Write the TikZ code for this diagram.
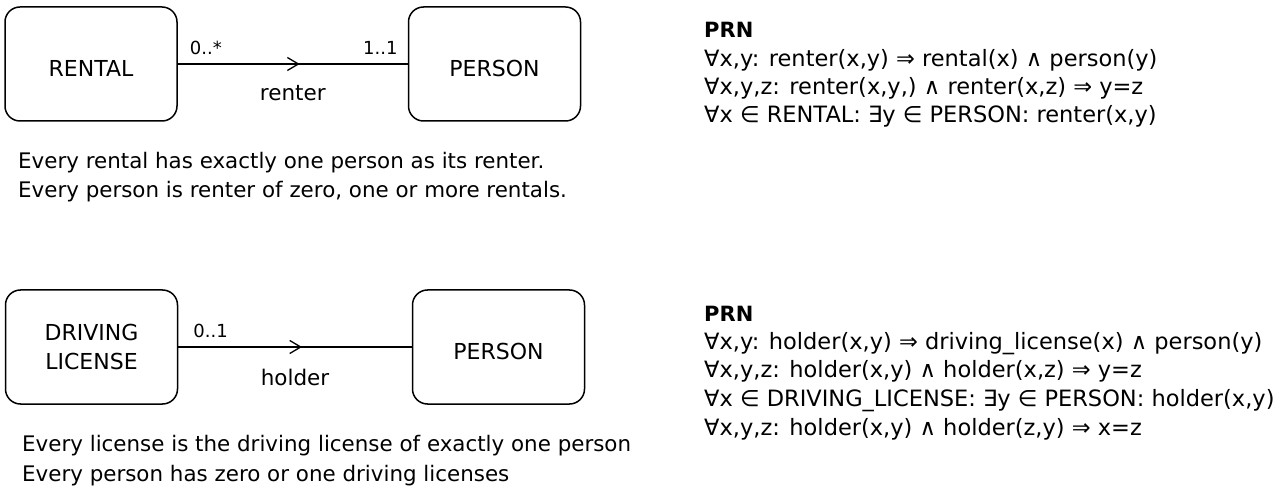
\documentclass[tikz,border=0pt]{standalone}
\usepackage{fontspec}
\setmainfont{DejaVu Sans}
\usetikzlibrary{arrows.meta,decorations.markings,positioning}

\tikzset{
  entity/.style={draw, line width=1.5pt, rounded corners=15pt,
                 minimum width=172pt, minimum height=114pt, align=center,
                 font=\fontsize{22}{29}\selectfont},
  oneline/.style={text height=25pt},
  assoc/.style={line width=1.5pt, postaction={decorate},
                decoration={markings, mark=at position #1 with
                  {\arrow{Straight Barb[length=11pt,width=13pt,line width=1.3pt]}}}},
  mult/.style={font=\fontsize{18}{20}\selectfont, inner sep=0pt},
  rolename/.style={font=\fontsize{21.5}{24}\selectfont, inner sep=0pt},
  remark/.style={anchor=base west, inner sep=0pt, font=\fontsize{21.4}{24}\selectfont},
  prnhead/.style={anchor=base west, inner sep=0pt, font=\fontsize{21}{24}\bfseries},
  prnline/.style={anchor=base west, inner sep=0pt, font=\fontsize{22.5}{26}\selectfont},
}

\begin{document}
\begin{tikzpicture}[x=1pt, y=-1pt, line cap=round]
  \useasboundingbox (0,0) rectangle (1285,494);

  % renter
  \node [entity, oneline] (rental) at (91,64) {RENTAL};
  \node [entity, oneline] (person1) at (494.5,64) {PERSON};
  \draw [assoc=0.53] (rental) -- (person1)
    node [rolename, midway, below=21pt] (renter) {renter};
  \node [mult, above right=9pt and 12pt of rental.east] (m1) {0..*};
  \node [mult, above left=9pt and 10pt of person1.west] (m2) {1..1};

  \foreach \txt [count=\i] in {%
      {Every rental has exactly one person as its renter.},
      {Every person is renter of zero, one or more rentals.}}
    \node [remark] (rem1-\i) at (18,169+29*\i-29) {\txt};

  \node [prnhead] (prn1) at (704,38) {PRN};
  \foreach \txt [count=\i] in {%
      {∀x,y: renter(x,y) ⇒ rental(x) ∧ person(y)},
      {∀x,y,z: renter(x,y,) ∧ renter(x,z) ⇒ y=z},
      {∀x ∈ RENTAL: ∃y ∈ PERSON: renter(x,y)}}
    \node [prnline] (prn1-\i) at (704,67+28*\i-28) {\txt};

  % holder
  \node [entity] (license) at (91.5,347) {DRIVING\\LICENSE};
  \node [entity, oneline] (person2) at (498.5,347) {PERSON};
  \draw [assoc=0.53] (license) -- (person2)
    node [rolename, midway, below=21pt] (holder) {holder};
  \node [mult, above right=9pt and 15pt of license.east] (m3) {0..1};

  \foreach \txt [count=\i] in {%
      {Every license is the driving license of exactly one person},
      {Every person has zero or one driving licenses}}
    \node [remark] (rem2-\i) at (22,451+30*\i-30) {\txt};

  \node [prnhead] (prn2) at (704,321) {PRN};
  \foreach \txt [count=\i] in {%
      {∀x,y: holder(x,y) ⇒ driving\_license(x) ∧ person(y)},
      {∀x,y,z: holder(x,y) ∧ holder(x,z) ⇒ y=z},
      {∀x ∈ DRIVING\_LICENSE: ∃y ∈ PERSON: holder(x,y)},
      {∀x,y,z: holder(x,y) ∧ holder(z,y) ⇒ x=z}}
    \node [prnline] (prn2-\i) at (704,349+28.8*\i-28.8) {\txt};
\end{tikzpicture}
\end{document}
